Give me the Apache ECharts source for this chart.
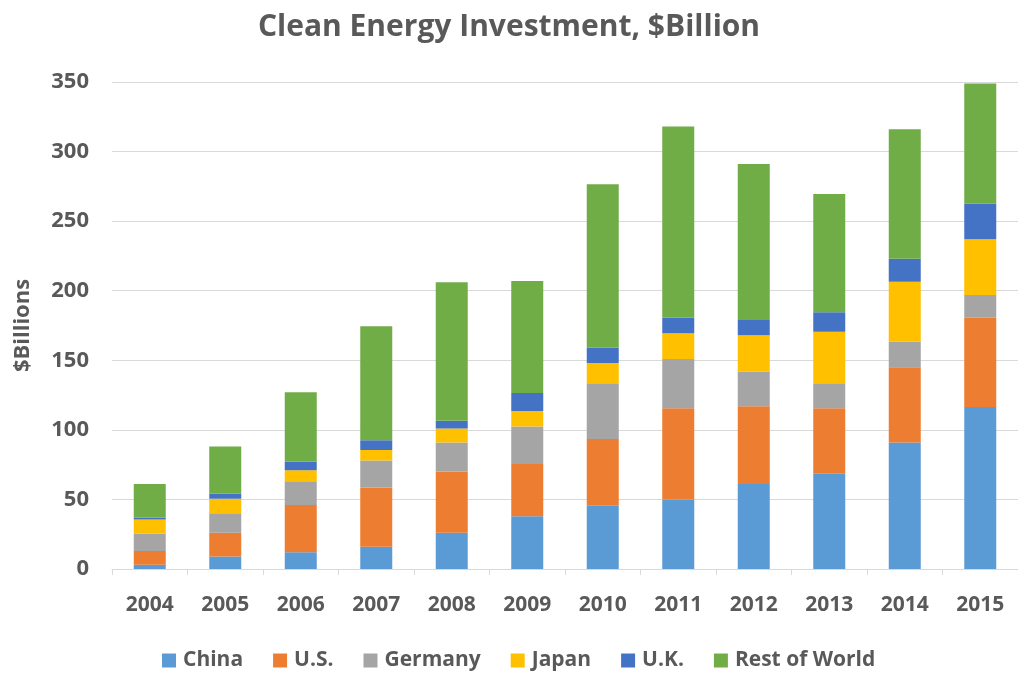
<!DOCTYPE html>
<html><head><meta charset="utf-8">
<script src="https://cdn.jsdelivr.net/npm/echarts@6/dist/echarts.min.js"></script>
<style>html,body{margin:0;padding:0;background:#fff}#c{width:1018px;height:673px}</style>
</head><body><div id="c"></div>
<script>
const years = ['2004','2005','2006','2007','2008','2009','2010','2011','2012','2013','2014','2015'];
const china   = [3, 9, 12, 16, 26, 38, 45.5, 50, 61, 68.5, 91, 116.5];
const us      = [10, 17, 34, 42.5, 44, 37.5, 48, 65.5, 56, 47, 54, 64];
const germany = [12.5, 14, 17, 19.5, 21, 27, 40, 35.5, 25, 18, 18.5, 16.5];
const japan   = [10, 10.5, 8, 7.5, 10, 11, 14.5, 18.5, 26, 37, 43, 40];
const uk      = [1.5, 3.5, 6, 7, 5.5, 13, 11, 11, 11, 14, 16.5, 25.5];
const row     = [24, 34, 50, 82, 99.5, 80.5, 117.5, 137.5, 112, 85, 93, 86.5];
const yTicks  = [0, 50, 100, 150, 200, 250, 300, 350];

const seriesDefs = [
  ['China', china, '#5b9bd5'],
  ['U.S.', us, '#ed7d31'],
  ['Germany', germany, '#a5a5a5'],
  ['Japan', japan, '#ffc000'],
  ['U.K.', uk, '#4472c4'],
  ['Rest of World', row, '#70ad47']
];
const font = '"Open Sans", "Noto Sans", sans-serif';
const chart = echarts.init(document.getElementById('c'));
chart.setOption({
  animation: false,
  title: {
    text: 'Clean Energy Investment, $Billion',
    left: 'center', top: 7,
    textStyle: {fontFamily: font, fontSize: 30, fontWeight: 'bold', color: '#595959'}
  },
  legend: {
    top: 645, left: 157,
    itemWidth: 14, itemHeight: 14, itemGap: 30,
    icon: 'rect',
    textStyle: {fontFamily: font, fontSize: 21, fontWeight: 'bold', color: '#595959', padding: [0, 0, 0, 2]},
    data: seriesDefs.map(s => s[0])
  },
  grid: {left: 112, right: 0, top: 82, bottom: 104, containLabel: false},
  xAxis: {
    type: 'category', data: years,
    axisLine: {lineStyle: {color: '#d9d9d9'}},
    axisTick: {show: true, length: 6, lineStyle: {color: '#d9d9d9'}},
    axisLabel: {margin: 26, fontFamily: font, fontSize: 21, fontWeight: 'bold', color: '#595959'}
  },
  yAxis: {
    type: 'value', min: yTicks[0], max: yTicks[yTicks.length - 1], interval: 50,
    name: '$Billions', nameLocation: 'middle', nameGap: 78, nameRotate: 90,
    nameTextStyle: {fontFamily: font, fontSize: 22, fontWeight: 'bold', color: '#595959'},
    axisLine: {show: false}, axisTick: {show: false},
    axisLabel: {margin: 23, fontFamily: font, fontSize: 22, fontWeight: 'bold', color: '#595959'},
    splitLine: {lineStyle: {color: '#d9d9d9', width: 1}}
  },
  series: seriesDefs.map(s => ({
    name: s[0], type: 'bar', stack: 'total', data: s[1], barWidth: 32,
    itemStyle: {color: s[2]}
  }))
});
</script></body></html>
